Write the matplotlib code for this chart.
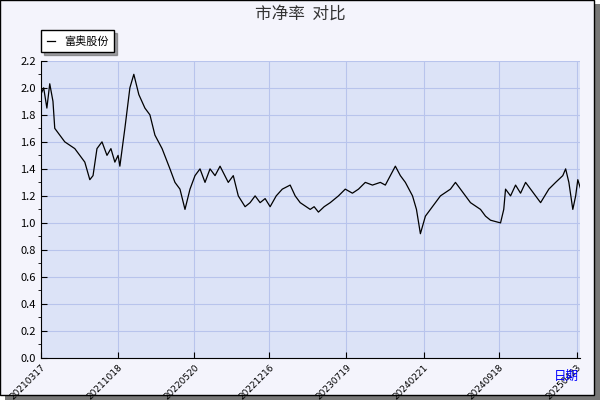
import pandas as pd
import matplotlib
matplotlib.use('Agg')
import matplotlib.pyplot as plt
from matplotlib.patches import Rectangle

plt.rcParams['font.family'] = ['Noto Sans CJK SC', 'DejaVu Sans']

# 数据: 距 2021-03-17 的天数, 市净率
days = [0, 8, 17, 25, 34, 39, 53, 67, 95, 109, 123, 137, 146, 157, 171, 185, 196, 207,
        216, 221, 235, 249, 260, 274, 291, 305, 319, 339, 361, 375, 389, 403, 417, 431,
        445, 459, 473, 487, 501, 524, 538, 552, 571, 585, 599, 613, 627, 641, 658, 675,
        697, 711, 725, 753, 764, 776, 792, 809, 832, 851, 871, 888, 907, 927, 949, 963,
        977, 991, 1005, 1019, 1039, 1050, 1061, 1075, 1089, 1103, 1117, 1145, 1159, 1173,
        1187, 1201, 1229, 1243, 1257, 1285, 1294, 1299, 1313, 1327, 1341, 1355, 1369,
        1383, 1397, 1420, 1439, 1459, 1467, 1476, 1487, 1495, 1501, 1509]
pb = [1.95, 2.0, 1.85, 2.03, 1.9, 1.7, 1.65, 1.6, 1.55, 1.5, 1.45, 1.32, 1.35, 1.55,
      1.6, 1.5, 1.55, 1.45, 1.5, 1.42, 1.7, 2.0, 2.1, 1.95, 1.85, 1.8, 1.65, 1.55, 1.4,
      1.3, 1.25, 1.1, 1.25, 1.35, 1.4, 1.3, 1.4, 1.35, 1.42, 1.3, 1.35, 1.2, 1.12, 1.15,
      1.2, 1.15, 1.18, 1.12, 1.2, 1.25, 1.28, 1.2, 1.15, 1.1, 1.12, 1.08, 1.12, 1.15,
      1.2, 1.25, 1.22, 1.25, 1.3, 1.28, 1.3, 1.28, 1.35, 1.42, 1.35, 1.3, 1.2, 1.1, 0.92,
      1.05, 1.1, 1.15, 1.2, 1.25, 1.3, 1.25, 1.2, 1.15, 1.1, 1.05, 1.02, 1.0, 1.1, 1.25,
      1.2, 1.28, 1.22, 1.3, 1.25, 1.2, 1.15, 1.25, 1.3, 1.35, 1.4, 1.3, 1.1, 1.2, 1.32, 1.25]
tick_labels = ['20210317', '20211018', '20220520', '20221216', '20230719',
               '20240221', '20240918', '20250423']

dates = pd.Timestamp('2021-03-17') + pd.to_timedelta(days, unit='D')
ticks = pd.to_datetime(tick_labels)

fig = plt.figure(figsize=(6, 4), dpi=100, facecolor='white')
fig.patches.append(Rectangle((0.008, 0.0), 0.992, 0.99, transform=fig.transFigure,
                             facecolor='#777777', edgecolor='none', zorder=-2))
fig.patches.append(Rectangle((0.0, 0.012), 0.99, 0.988, transform=fig.transFigure,
                             facecolor='#F4F4FC', edgecolor='black', lw=1, zorder=-1))

ax = fig.add_axes([0.068, 0.105, 0.898, 0.743])
ax.set_facecolor('#DCE3F7')
ax.plot(dates, pb, color='black', lw=0.9, label='富奥股份')
ax.set_ylim(0, 2.2)
ax.set_xlim(pd.Timestamp('2021-03-17'), pd.Timestamp('2025-05-01'))
ax.set_yticks([i * 0.2 for i in range(12)])
ax.set_yticks([i * 0.1 for i in range(23)], minor=True)
ax.yaxis.set_major_formatter(plt.FuncFormatter(lambda v, p: f'{v:.1f}'))
ax.set_xticks(ticks)
ax.set_xticklabels(tick_labels, rotation=45, ha='right', rotation_mode='anchor',
                   fontsize=6.5, family='DejaVu Sans')
ax.tick_params(axis='y', labelsize=8)
ax.tick_params(direction='in', length=4)
ax.grid(color='#B8C4EC', lw=0.8)
for s in ['top', 'right']:
    ax.spines[s].set_visible(False)
ax.spines['left'].set_color('black')
ax.spines['bottom'].set_color('black')

fig.text(0.5, 0.965, '市净率  对比', ha='center', va='center', fontsize=12, color='#333333')
fig.text(0.965, 0.06, '日期', ha='right', va='center', fontsize=9, color='blue')
leg = ax.legend(loc='lower left', bbox_to_anchor=(-0.01, 1.01), fontsize=8,
                fancybox=False, edgecolor='black', framealpha=1, handlelength=0.8,
                borderpad=0.5, shadow=True)

fig.savefig('out.png', dpi=100)
